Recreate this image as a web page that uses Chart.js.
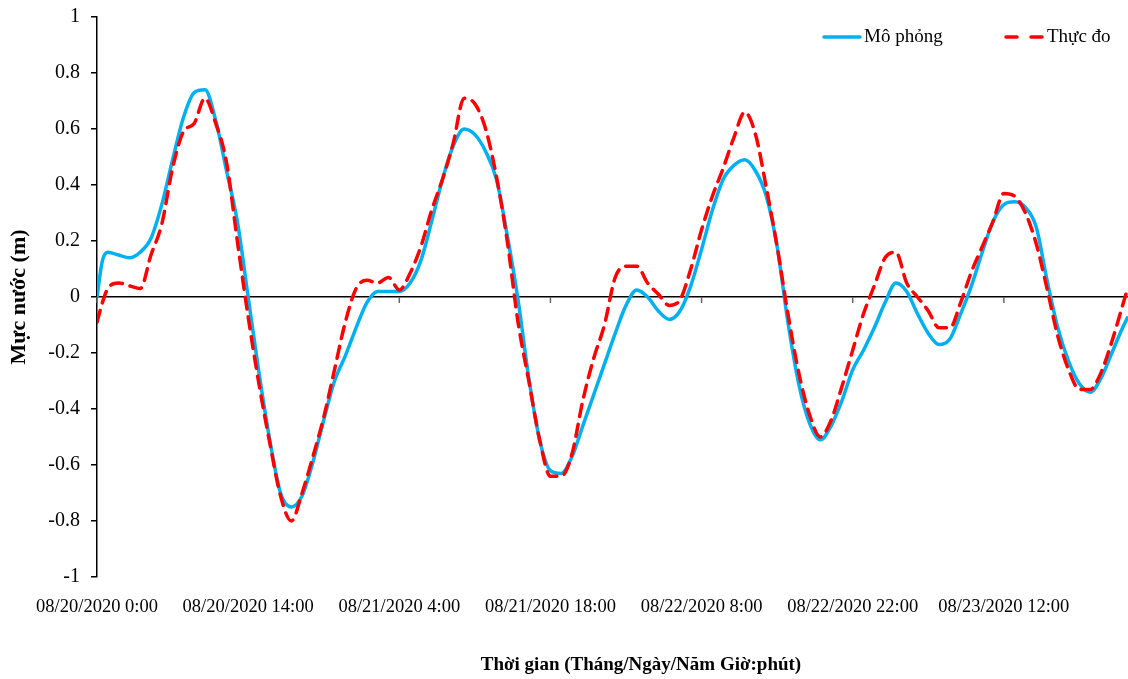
<!DOCTYPE html>
<html>
<head>
<meta charset="utf-8">
<title>Mực nước</title>
<script src="https://cdn.jsdelivr.net/npm/chart.js@4/dist/chart.umd.min.js"></script>
<style>
  body { margin: 0; background: #fff; }
  #wrap { width: 1128px; height: 679px; }
</style>
</head>
<body>
<div id="wrap"><canvas id="chart" width="1128" height="679"></canvas></div>
<script>
// hours since 08/20/2020 0:00
const hours = [0, 0.5, 1, 2, 3, 4, 5, 6, 7, 8, 9, 10, 11, 12, 13, 14, 15, 16, 17, 18, 19,
  20, 21, 22, 23, 24, 25, 26, 27, 28, 29, 30, 31, 32, 33, 34, 35, 36, 37, 38, 39,
  40, 41, 42, 43, 44, 45, 46, 47, 48, 49, 50, 51, 52, 53, 54, 55, 56, 57, 58, 59,
  60, 61, 62, 63, 64, 65, 66, 67, 68, 69, 70, 71, 72, 73, 74, 75, 76, 77, 78, 79,
  80, 81, 82, 83, 84, 85, 86, 87, 88, 89, 90, 91, 92, 93, 94, 95, 95.5];

// Mô phỏng (m)
const simulated = [0.00, 0.13, 0.16, 0.15, 0.14, 0.16, 0.21, 0.33, 0.49, 0.64, 0.73, 0.74, 0.63, 0.45, 0.27, 0.00, -0.27,
  -0.51, -0.70, -0.75, -0.71, -0.59, -0.44, -0.30, -0.21, -0.11, -0.02, 0.02, 0.02, 0.02, 0.05,
  0.13, 0.27, 0.42, 0.54, 0.60, 0.58, 0.52, 0.42, 0.22, -0.01, -0.29, -0.51, -0.62, -0.63, -0.57,
  -0.46, -0.35, -0.24, -0.13, -0.03, 0.025, 0.00, -0.05, -0.08, -0.05, 0.04, 0.17, 0.31, 0.42,
  0.47, 0.49, 0.45, 0.36, 0.18, -0.09, -0.31, -0.45, -0.51, -0.46, -0.37, -0.26, -0.19, -0.11,
  -0.02, 0.05, 0.02, -0.06, -0.13, -0.17, -0.15, -0.06, 0.04, 0.16, 0.27, 0.33, 0.34, 0.32,
  0.25, 0.06, -0.11, -0.23, -0.31, -0.34, -0.29, -0.20, -0.11, -0.07];

// Thực đo (m)
const observed = [-0.09, -0.02, 0.03, 0.05, 0.04, 0.03, 0.15, 0.26, 0.46, 0.59, 0.62, 0.71, 0.62, 0.48, 0.20, -0.07, -0.31,
  -0.52, -0.71, -0.80, -0.70, -0.57, -0.43, -0.26, -0.09, 0.03, 0.06, 0.05, 0.07, 0.025, 0.085,
  0.18, 0.31, 0.42, 0.55, 0.71, 0.69, 0.60, 0.43, 0.20, -0.09, -0.30, -0.51, -0.64, -0.64, -0.56,
  -0.37, -0.22, -0.10, 0.07, 0.11, 0.11, 0.05, 0.01, -0.03, -0.01, 0.10, 0.24, 0.36, 0.46,
  0.57, 0.66, 0.58, 0.39, 0.18, -0.06, -0.27, -0.42, -0.50, -0.44, -0.32, -0.19, -0.06, 0.04,
  0.14, 0.16, 0.05, 0.00, -0.05, -0.11, -0.11, -0.02, 0.09, 0.18, 0.27, 0.37, 0.36, 0.30,
  0.19, 0.03, -0.14, -0.26, -0.33, -0.33, -0.27, -0.16, -0.03, 0.035];

const xTickLabels = ['08/20/2020 0:00', '08/20/2020 14:00', '08/21/2020 4:00', '08/21/2020 18:00',
  '08/22/2020 8:00', '08/22/2020 22:00', '08/23/2020 12:00'];

const seriesNames = ['Mô phỏng', 'Thực đo'];
const xTitle = 'Thời gian (Tháng/Ngày/Năm Giờ:phút)';
const yTitle = 'Mực nước (m)';

const BLUE = '#00B0F0';
const RED = '#FF0000';
const RED_DASH = [12, 8];

Chart.defaults.font.family = "'Liberation Serif', 'Times New Roman', serif";
Chart.defaults.color = '#000';

// zero line ticks, legend and x title
const overlay = {
  id: 'overlay',
  beforeDatasetsDraw(chart) {
    const { ctx, scales: { x, y } } = chart;
    const y0 = y.getPixelForValue(0);
    ctx.save();
    ctx.strokeStyle = '#666';
    ctx.lineWidth = 1.5;
    x.ticks.forEach(t => {
      const px = x.getPixelForValue(t.value);
      ctx.beginPath();
      ctx.moveTo(px, y0);
      ctx.lineTo(px, y0 + 6);
      ctx.stroke();
    });
    ctx.restore();
  },
  afterDraw(chart) {
    const { ctx, chartArea } = chart;
    const ly = chartArea.top + 20;
    ctx.save();
    ctx.font = "19px 'Liberation Serif'";
    ctx.textBaseline = 'middle';
    ctx.textAlign = 'left';
    ctx.lineCap = 'round';

    ctx.strokeStyle = BLUE;
    ctx.lineWidth = 3.5;
    ctx.beginPath();
    ctx.moveTo(824, ly);
    ctx.lineTo(860, ly);
    ctx.stroke();
    ctx.fillStyle = '#000';
    ctx.fillText(seriesNames[0], 864, ly);

    ctx.strokeStyle = RED;
    ctx.setLineDash([11, 14]);
    ctx.beginPath();
    ctx.moveTo(1006, ly);
    ctx.lineTo(1043, ly);
    ctx.stroke();
    ctx.setLineDash([]);
    ctx.fillText(seriesNames[1], 1047, ly);

    ctx.font = "bold 19px 'Liberation Serif'";
    ctx.textAlign = 'center';
    ctx.fillText(xTitle, 641, 665);
    ctx.restore();
  }
};

new Chart(document.getElementById('chart'), {
  type: 'line',
  data: {
    datasets: [
      {
        label: seriesNames[0],
        data: hours.map((h, i) => ({ x: h, y: simulated[i] })),
        borderColor: BLUE,
        borderWidth: 3.5,
        pointRadius: 0,
        cubicInterpolationMode: 'monotone',
        order: 2
      },
      {
        label: seriesNames[1],
        data: hours.map((h, i) => ({ x: h, y: observed[i] })),
        borderColor: RED,
        borderWidth: 3.5,
        borderDash: RED_DASH,
        borderCapStyle: 'round',
        pointRadius: 0,
        cubicInterpolationMode: 'monotone',
        order: 1
      }
    ]
  },
  options: {
    responsive: false,
    animation: false,
    layout: { padding: { top: 17, right: 0, left: 0, bottom: 0 } },
    plugins: {
      legend: { display: false },
      tooltip: { enabled: false }
    },
    scales: {
      x: {
        type: 'linear',
        min: 0,
        max: 95.5,
        grid: { display: false, drawTicks: false },
        border: { display: false },
        ticks: {
          stepSize: 14,
          includeBounds: false,
          autoSkip: false,
          maxRotation: 0,
          padding: 19,
          font: { size: 18.5 },
          callback: (value, index) => xTickLabels[index]
        },
        afterFit: scale => { scale.height = 102; }
      },
      y: {
        min: -1,
        max: 1,
        grid: {
          color: c => (c.tick && c.tick.value === 0 ? '#000' : 'transparent'),
          lineWidth: 1.5,
          tickColor: '#000',
          tickWidth: 1.5,
          tickLength: 6
        },
        border: { color: '#000', width: 1.5 },
        ticks: {
          stepSize: 0.2,
          padding: 11,
          font: { size: 20 },
          callback: v => String(Math.round(v * 10) / 10 || 0)
        },
        title: {
          display: true,
          text: yTitle,
          font: { size: 22, weight: 'bold' },
          padding: { top: 6, bottom: 0 }
        },
        afterFit: scale => {
          scale.width = 97;
          scale.paddingTop = 0;
          scale.paddingBottom = 0;
        }
      }
    }
  },
  plugins: [overlay]
});
</script>
</body>
</html>
